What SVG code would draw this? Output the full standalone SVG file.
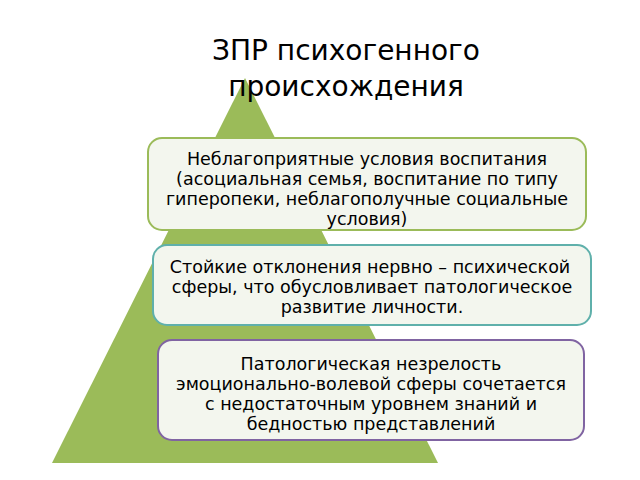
<svg xmlns="http://www.w3.org/2000/svg" width="640" height="480" viewBox="0 0 640 480">
<style>
.t{font-family:"DejaVu Sans",sans-serif;font-size:17.5px;fill:#000;text-anchor:middle}
.h{font-family:"DejaVu Sans",sans-serif;font-size:28px;fill:#000;text-anchor:middle}
.b{fill:#f3f6ee;stroke-width:2}
</style>
<rect width="640" height="480" fill="#fff"/>
<polygon points="245,78 438,463 52,463" fill="#9bbb59"/>
<g id="title"><text class="h" x="346" y="60">ЗПР психогенного</text><text class="h" x="346" y="96">происхождения</text></g>
<g id="connectors"></g>
<g id="n1"><rect class="b" x="148" y="138" width="438" height="92" rx="14" stroke="#9bbb59"/>
<text class="t" x="367" y="165">Неблагоприятные условия воспитания</text>
<text class="t" x="367" y="185">(асоциальная семья, воспитание по типу</text>
<text class="t" x="367" y="205">гиперопеки, неблагополучные социальные</text>
<text class="t" x="367" y="225">условия)</text></g>
<g id="n2"><rect class="b" x="153" y="245" width="438" height="80" rx="14" stroke="#5fb0ab"/>
<text class="t" x="370" y="273">Стойкие отклонения нервно – психической</text>
<text class="t" x="372" y="293">сферы, что обусловливает патологическое</text>
<text class="t" x="372" y="313">развитие личности.</text></g>
<g id="n3"><rect class="b" x="158" y="340" width="426" height="100" rx="14" stroke="#8064a2"/>
<text class="t" x="371" y="370">Патологическая незрелость</text>
<text class="t" x="371" y="390">эмоционально-волевой сферы сочетается</text>
<text class="t" x="371" y="410">с недостаточным уровнем знаний и</text>
<text class="t" x="371" y="430">бедностью представлений</text></g>
</svg>
